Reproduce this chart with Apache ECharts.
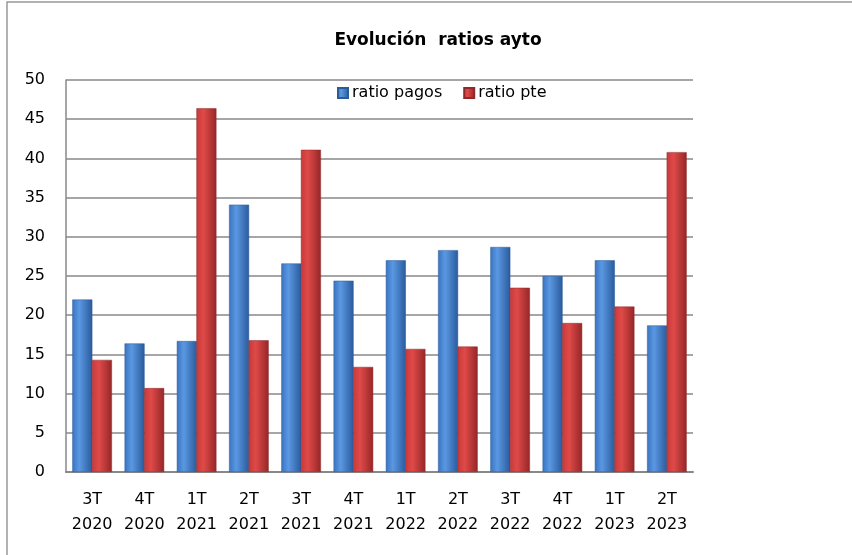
<!DOCTYPE html>
<html>
<head>
<meta charset="utf-8">
<script src="https://cdn.jsdelivr.net/npm/echarts@6/dist/echarts.min.js"></script>
<style>
html, body { margin: 0; padding: 0; background: #fff; }
#chart { width: 852px; height: 555px; }
</style>
</head>
<body>
<div id="chart"></div>
<script>
// datos
var quarters = ['3T 2020', '4T 2020', '1T 2021', '2T 2021', '3T 2021', '4T 2021',
    '1T 2022', '2T 2022', '3T 2022', '4T 2022', '1T 2023', '2T 2023'];
var ratioPagos = [22.0, 16.4, 16.7, 34.1, 26.6, 24.4, 27.0, 28.3, 28.7, 25.0, 27.0, 18.7];
var ratioPte = [14.3, 10.7, 46.4, 16.8, 41.1, 13.4, 15.7, 16.0, 23.5, 19.0, 21.1, 40.8];
var yTicks = { min: 0, max: 50, step: 5 };

var font = '"DejaVu Sans", sans-serif';

// degradado tipo cilindro
function barColor(light, mid, dark) {
    return new echarts.graphic.LinearGradient(0, 0, 1, 0, [
        { offset: 0, color: mid },
        { offset: 0.35, color: light },
        { offset: 1, color: dark }
    ]);
}

var myChart = echarts.init(document.getElementById('chart'));

var option = {
    backgroundColor: '#fff',
    animation: false,
    title: {
        text: 'Evolución  ratios ayto',
        left: 433,
        textAlign: 'center',
        top: 27,
        textStyle: { fontFamily: font, fontSize: 17, fontWeight: 'bold', color: '#000' }
    },
    legend: {
        left: 332,
        top: 80,
        itemWidth: 10,
        itemHeight: 10,
        itemGap: 21,
        icon: 'rect',
        textStyle: { fontFamily: font, fontSize: 16, color: '#000', padding: [0, 0, 0, -1] },
        data: ['ratio pagos', 'ratio pte']
    },
    grid: { left: 66, right: 159, top: 80, bottom: 83 },
    xAxis: {
        type: 'category',
        data: quarters,
        axisLine: { lineStyle: { color: '#888', width: 2 } },
        axisTick: { show: false },
        axisLabel: {
            interval: 0,
            margin: 15,
            fontFamily: font,
            fontSize: 16,
            lineHeight: 25,
            color: '#000',
            formatter: function (v) { return v.replace(' ', '\n'); }
        }
    },
    yAxis: {
        type: 'value',
        min: yTicks.min,
        max: yTicks.max,
        interval: yTicks.step,
        axisLine: { show: true, lineStyle: { color: '#888', width: 1.5 } },
        axisTick: { show: false },
        axisLabel: { margin: 21, fontFamily: font, fontSize: 16, color: '#000' },
        splitLine: { lineStyle: { color: '#888', width: 1.5 } }
    },
    graphic: [{
        type: 'rect',
        shape: { x: 7, y: 2, width: 900, height: 600 },
        style: { fill: 'none', stroke: '#999', lineWidth: 1.5 },
        z: -1
    }],
    series: [
        {
            name: 'ratio pagos',
            type: 'bar',
            barWidth: 20,
            barGap: '-2%',
            data: ratioPagos,
            itemStyle: {
                color: barColor('#5a98e2', '#3b73c0', '#2a5a9c'),
                borderColor: '#2b5b98',
                borderWidth: 0.5
            }
        },
        {
            name: 'ratio pte',
            type: 'bar',
            barWidth: 20,
            data: ratioPte,
            itemStyle: {
                color: barColor('#df4a48', '#c8393a', '#952628'),
                borderColor: '#8e2a2a',
                borderWidth: 0.5
            }
        }
    ]
};

myChart.setOption(option);
</script>
</body>
</html>
